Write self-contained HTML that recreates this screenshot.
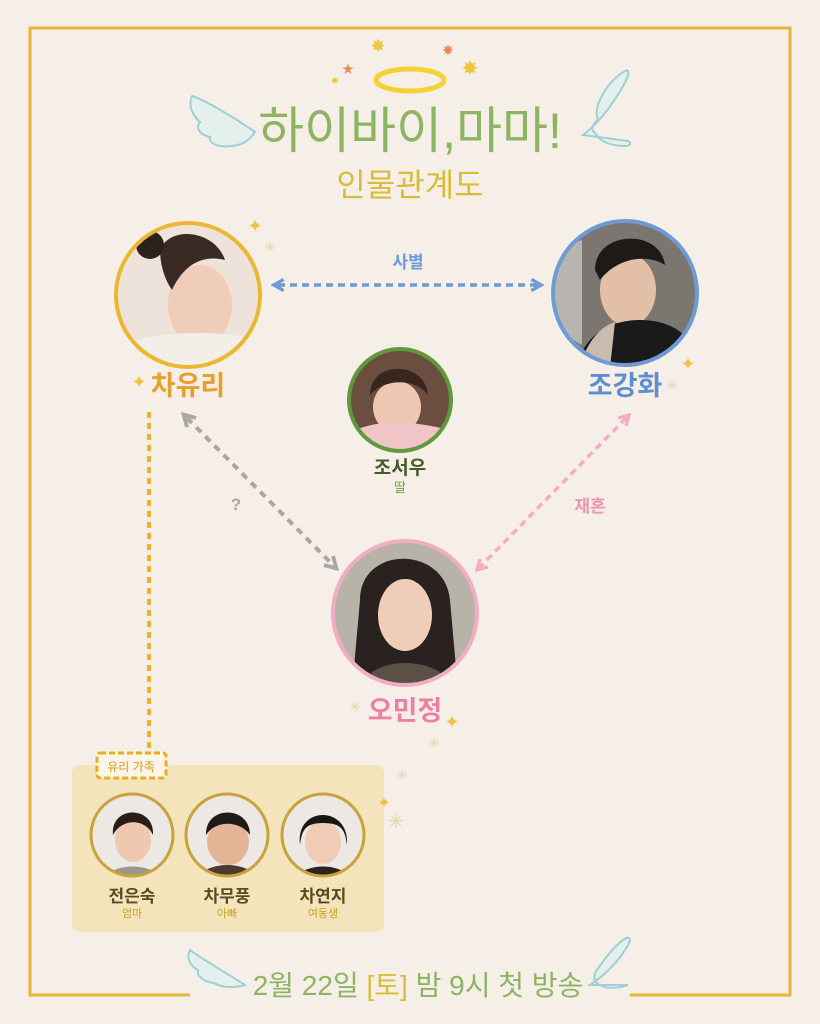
<!DOCTYPE html>
<html><head><meta charset="utf-8"><style>
html,body{margin:0;padding:0;background:#f6efe7;}
svg{display:block}
text{font-family:"Liberation Sans","Noto Sans CJK KR",sans-serif;text-anchor:middle}
</style></head><body>
<svg width="820" height="1024" viewBox="0 0 820 1024" xmlns="http://www.w3.org/2000/svg">
<defs>
<marker id="ab" viewBox="0 0 10 10" refX="5" refY="5" markerWidth="4" markerHeight="4" orient="auto-start-reverse"><path d="M1,1 L8,5 L1,9" fill="none" stroke="#6e9bd6" stroke-width="2.4"/></marker>
<marker id="ag" viewBox="0 0 10 10" refX="5" refY="5" markerWidth="4" markerHeight="4" orient="auto-start-reverse"><path d="M1,1 L8,5 L1,9" fill="none" stroke="#a9a6a4" stroke-width="2.4"/></marker>
<marker id="ap" viewBox="0 0 10 10" refX="5" refY="5" markerWidth="4" markerHeight="4" orient="auto-start-reverse"><path d="M1,1 L8,5 L1,9" fill="none" stroke="#f3adc6" stroke-width="2.4"/></marker>
<clipPath id="c1"><circle cx="188" cy="295" r="71"/></clipPath>
<clipPath id="c2"><circle cx="625" cy="293" r="71"/></clipPath>
<clipPath id="c3"><circle cx="400" cy="400" r="50"/></clipPath>
<clipPath id="c4"><circle cx="405" cy="613" r="71"/></clipPath>
<clipPath id="c5"><circle cx="132" cy="835" r="40"/></clipPath>
<clipPath id="c6"><circle cx="227" cy="835" r="40"/></clipPath>
<clipPath id="c7"><circle cx="323" cy="835" r="40"/></clipPath>
</defs>
<rect width="820" height="1024" fill="#f6efe7"/>
<rect x="30" y="28" width="760" height="967" fill="none" stroke="#e9b43a" stroke-width="3"/>
<rect x="190" y="975" width="440" height="40" fill="#f6efe7"/>

<ellipse cx="410" cy="80" rx="34" ry="11" fill="none" stroke="#f3d233" stroke-width="5"/>
<text x="378" y="52" font-size="18" fill="#f0c640">✸</text>
<text x="448" y="55" font-size="14" fill="#e98a55">✸</text>
<text x="470" y="75" font-size="20" fill="#f0c640">✸</text>
<text x="348" y="73" font-size="12" fill="#e98a55">★</text>
<text x="335" y="84" font-size="10" fill="#f0c640">✸</text>
<path d="M255,132 C235,118 205,100 192,96 C188,105 192,115 200,122 C195,128 200,135 210,137 C208,143 218,148 232,146 C242,145 250,140 255,132Z" fill="#e4f0ee" stroke="#9fcfd2" stroke-width="2"/>
<path d="M583,135 C600,122 612,105 622,88 C628,78 630,72 627,70 C615,76 605,88 600,100 C596,108 596,116 598,120 C592,124 590,130 596,134 C600,142 612,146 625,146 C630,146 632,143 628,141Z" fill="#e4f0ee" stroke="#9fcfd2" stroke-width="2"/>
<text x="410" y="148" font-size="50" fill="#8cb463">하이바이,마마!</text>
<text x="410" y="196" font-size="32" fill="#d8bd38">인물관계도</text>

<line x1="278" y1="285" x2="537" y2="285" stroke="#6e9bd6" stroke-width="3.5" stroke-dasharray="7,5" marker-start="url(#ab)" marker-end="url(#ab)"/>
<text x="408" y="268" font-size="17" fill="#6e9bd6" font-weight="bold">사별</text>
<line x1="187" y1="418" x2="333" y2="565" stroke="#a9a6a4" stroke-width="4" stroke-dasharray="7,6" marker-start="url(#ag)" marker-end="url(#ag)"/>
<text x="236" y="510" font-size="17" fill="#a9a6a4" font-weight="bold">?</text>
<line x1="626" y1="418" x2="480" y2="567" stroke="#f3adc6" stroke-width="3.5" stroke-dasharray="7,5" marker-start="url(#ap)" marker-end="url(#ap)"/>
<text x="590" y="512" font-size="17" fill="#ef92b2" font-weight="bold">재혼</text>
<line x1="149" y1="412" x2="149" y2="760" stroke="#f0b129" stroke-width="4" stroke-dasharray="6,5"/>

<g clip-path="url(#c1)">
<rect x="110" y="220" width="160" height="150" fill="#eee3da"/>
<ellipse cx="200" cy="305" rx="32" ry="40" fill="#f0cdb8"/>
<path d="M160,250 C170,225 215,230 225,260 C205,255 185,262 172,290 C165,280 160,265 160,250Z" fill="#3a2a24"/>
<circle cx="150" cy="245" r="14" fill="#2d211c"/>
<path d="M120,345 C160,330 220,330 260,340 L260,370 L120,370Z" fill="#f4eee8"/>
</g>
<circle cx="188" cy="295" r="72" fill="none" stroke="#ebb730" stroke-width="4"/>
<text x="188" y="395" font-size="27" fill="#e6a030" font-weight="bold">차유리</text>
<text x="139" y="388" font-size="18" fill="#f0c040">✦</text>
<text x="255" y="232" font-size="18" fill="#f0c040">✦</text>
<text x="270" y="252" font-size="14" fill="#e8d2a8">✳</text>

<g clip-path="url(#c2)">
<rect x="550" y="220" width="150" height="150" fill="#7b7670"/>
<path d="M555,250 L582,240 L582,345 L555,330Z" fill="#b8b4b0"/>
<ellipse cx="628" cy="290" rx="28" ry="36" fill="#e4bfa7"/>
<path d="M595,270 C595,230 660,228 665,265 C650,255 620,255 600,280Z" fill="#1f1a18"/>
<path d="M575,370 C585,330 615,320 640,320 C665,320 690,330 700,360 L700,370Z" fill="#1a1a1a"/>
<path d="M580,365 C590,335 605,325 615,322 L610,368Z" fill="#c9bcae"/>
</g>
<circle cx="625" cy="293" r="72" fill="none" stroke="#6e9bd6" stroke-width="4"/>
<text x="625" y="395" font-size="27" fill="#5b8fd0" font-weight="bold">조강화</text>
<text x="688" y="370" font-size="18" fill="#f0c040">✦</text>
<text x="672" y="390" font-size="14" fill="#e8d2a8">✳</text>

<g clip-path="url(#c3)">
<rect x="345" y="345" width="110" height="110" fill="#6b4e40"/>
<ellipse cx="397" cy="407" rx="24" ry="26" fill="#eec6b2"/>
<path d="M370,395 C370,360 425,360 428,395 C415,378 385,378 370,395Z" fill="#3a2620"/>
<path d="M355,430 C385,418 415,422 450,430 L450,455 L355,455Z" fill="#f1c4c8"/>
</g>
<circle cx="400" cy="400" r="51" fill="none" stroke="#5e9a3c" stroke-width="4"/>
<text x="400" y="474" font-size="19" fill="#445a2a" font-weight="bold">조서우</text>
<text x="400" y="492" font-size="13" fill="#6aa040">딸</text>

<g clip-path="url(#c4)">
<rect x="330" y="540" width="150" height="150" fill="#b8b3a8"/>
<path d="M360,600 C360,545 445,545 450,600 L458,690 L352,690Z" fill="#2a2220"/>
<ellipse cx="405" cy="615" rx="27" ry="36" fill="#efcdb9"/>
<path d="M372,672 C390,660 420,660 440,672 L440,690 L372,690Z" fill="#5a5048"/>
</g>
<circle cx="405" cy="613" r="72" fill="none" stroke="#f2acc4" stroke-width="4"/>
<text x="405" y="720" font-size="27" fill="#ec7fa6" font-weight="bold">오민정</text>
<text x="355" y="712" font-size="14" fill="#e8d2a8">✳</text>
<text x="452" y="728" font-size="18" fill="#f0c040">✦</text>
<text x="434" y="748" font-size="14" fill="#e8d2a8">✳</text>

<rect x="72" y="765" width="312" height="167" rx="8" fill="#f4e4bb"/>
<rect x="97" y="753" width="69" height="25" rx="3" fill="#fbf5e8" stroke="#e8ad20" stroke-width="3" stroke-dasharray="6,3"/>
<text x="131" y="771" font-size="12" fill="#d49a18">유리 가족</text>
<g clip-path="url(#c5)">
<rect x="90" y="793" width="84" height="84" fill="#ece8e4"/>
<ellipse cx="133" cy="840" rx="18" ry="22" fill="#efc8b0"/>
<path d="M113,835 C110,805 155,805 153,835 C145,818 122,818 113,835Z" fill="#2a1d18"/>
<path d="M100,880 C115,862 150,862 165,880Z" fill="#9a958e"/>
</g>
<circle cx="132" cy="835" r="41" fill="none" stroke="#c9a23a" stroke-width="3"/>
<g clip-path="url(#c6)">
<rect x="185" y="793" width="84" height="84" fill="#ece8e4"/>
<ellipse cx="228" cy="842" rx="21" ry="23" fill="#e3b596"/>
<path d="M206,835 C205,805 250,805 250,835 C240,820 215,820 206,835Z" fill="#1e1a18"/>
<path d="M192,880 C210,860 245,860 262,880Z" fill="#4a3a30"/>
</g>
<circle cx="227" cy="835" r="41" fill="none" stroke="#c9a23a" stroke-width="3"/>
<g clip-path="url(#c7)">
<rect x="281" y="793" width="84" height="84" fill="#ece8e4"/>
<ellipse cx="323" cy="842" rx="18" ry="22" fill="#f0ccb6"/>
<path d="M300,845 C295,805 350,805 347,845 C345,830 342,823 323,823 C305,823 302,830 300,845Z" fill="#1a1616"/>
<path d="M290,880 C308,862 338,862 356,880Z" fill="#2a2420"/>
</g>
<circle cx="323" cy="835" r="41" fill="none" stroke="#c9a23a" stroke-width="3"/>
<text x="132" y="902" font-size="17" fill="#5a4a20" font-weight="bold">전은숙</text>
<text x="132" y="917" font-size="11" fill="#c8a020">엄마</text>
<text x="227" y="902" font-size="17" fill="#5a4a20" font-weight="bold">차무풍</text>
<text x="227" y="917" font-size="11" fill="#c8a020">아빠</text>
<text x="323" y="902" font-size="17" fill="#5a4a20" font-weight="bold">차연지</text>
<text x="323" y="917" font-size="11" fill="#c8a020">여동생</text>
<text x="402" y="780" font-size="14" fill="#ddd2c0">✳</text>
<text x="384" y="808" font-size="16" fill="#f0c040">✦</text>
<text x="396" y="828" font-size="20" fill="#e8d2a8">✳</text>

<path d="M245,985 C225,972 200,958 190,950 C186,958 190,966 198,970 C196,976 204,982 214,983 C222,988 236,988 245,985Z" fill="#e4f0ee" stroke="#9fcfd2" stroke-width="2"/>
<path d="M590,985 C605,975 620,960 628,945 C631,940 630,937 626,938 C615,945 605,958 600,966 C594,972 592,980 598,984 C606,990 620,988 628,985Z" fill="#e4f0ee" stroke="#9fcfd2" stroke-width="2"/>
<text x="418" y="995" font-size="28" fill="#8cb463">2월 22일 <tspan fill="#d8bd38">[토]</tspan> 밤 9시 첫 방송</text>
</svg>
</body></html>
